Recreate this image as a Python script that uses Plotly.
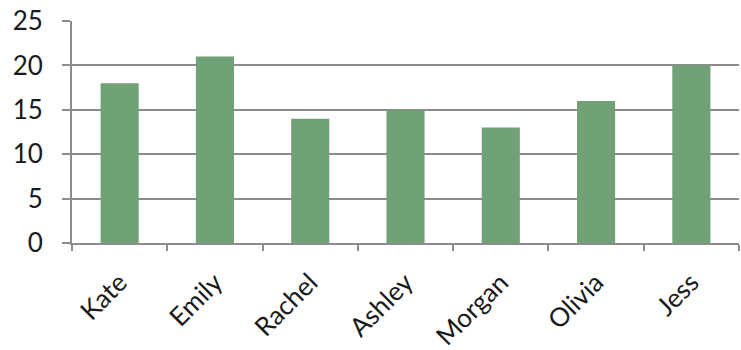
import plotly.graph_objects as go

names = ["Kate", "Emily", "Rachel", "Ashley", "Morgan", "Olivia", "Jess"]
scores = [18, 21, 14, 15, 13, 16, 20]
y_ticks = [0, 5, 10, 15, 20, 25]

grid_color = "#8c8c8c"
bar_color = "rgb(113,162,119)"
font_family = "Lato"

fig = go.Figure(
    go.Bar(
        x=names,
        y=scores,
        marker=dict(color=bar_color, line=dict(width=0)),
        width=0.4,
    )
)

fig.update_layout(
    width=741,
    height=350,
    margin=dict(l=72, r=2, t=21, b=107),
    paper_bgcolor="white",
    plot_bgcolor="white",
    showlegend=False,
    font=dict(family=font_family, size=26, color="#1a1a1a"),
)

fig.update_xaxes(
    tickangle=-45,
    tickson="boundaries",
    ticks="outside",
    ticklen=6,
    tickwidth=2,
    tickcolor=grid_color,
    showline=True,
    linecolor=grid_color,
    linewidth=2,
    showgrid=False,
    ticklabelstandoff=12,
    automargin=False,
    tickfont=dict(size=26),
)

fig.update_yaxes(
    range=[0, 25],
    tickvals=y_ticks,
    ticks="outside",
    ticklen=8,
    tickwidth=2,
    tickcolor=grid_color,
    showline=True,
    linecolor=grid_color,
    linewidth=2,
    showgrid=True,
    gridcolor=grid_color,
    gridwidth=2,
    zeroline=False,
    ticklabelstandoff=14,
    automargin=False,
    tickfont=dict(size=26),
)

fig.write_html("out.html")
